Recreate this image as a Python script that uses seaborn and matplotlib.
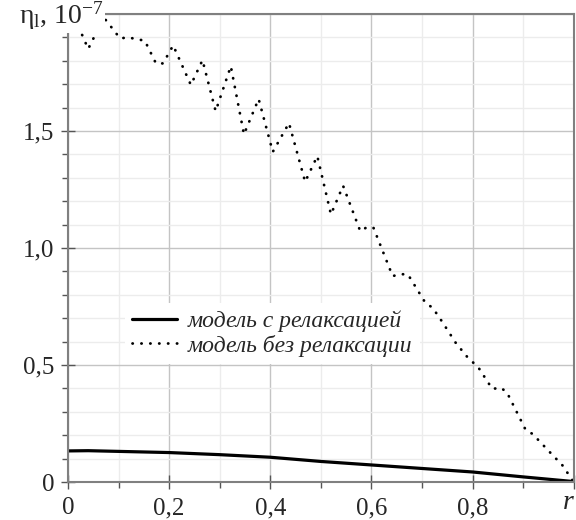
import numpy as np
import seaborn as sns
import matplotlib.pyplot as plt
from matplotlib.ticker import MultipleLocator, FixedLocator, FixedFormatter

# model with relaxation (solid)
r_relax = [0.0, 0.04, 0.1, 0.2, 0.3, 0.4, 0.5, 0.6, 0.7, 0.8, 0.9, 1.0]
eta_relax = [0.133, 0.134, 0.131, 0.126, 0.117, 0.106, 0.088, 0.073, 0.058, 0.043, 0.022, 0.002]

# model without relaxation (dotted)
r_norelax = [0.0, 0.040, 0.071, 0.103, 0.119, 0.152, 0.174, 0.188, 0.208, 0.243, 0.266,
             0.292, 0.322, 0.348, 0.377, 0.405, 0.437, 0.469, 0.493, 0.520, 0.544,
             0.578, 0.591, 0.604, 0.642, 0.656, 0.672, 0.707, 0.721, 0.739, 0.767,
             0.789, 0.812, 0.839, 0.856, 0.868, 0.905, 0.919, 0.964, 0.975, 1.0]
eta_norelax = [2.05, 1.851, 1.985, 1.896, 1.900, 1.886, 1.789, 1.789, 1.866, 1.697, 1.803,
               1.585, 1.777, 1.486, 1.637, 1.411, 1.534, 1.283, 1.393, 1.144, 1.266,
               1.072, 1.089, 1.087, 0.880, 0.888, 0.888, 0.765, 0.745, 0.688, 0.594,
               0.536, 0.488, 0.398, 0.403, 0.383, 0.223, 0.205, 0.102, 0.080, 0.0]

x_ticklabels = ['0', '0,2', '0,4', '0,6', '0,8', '']
y_ticklabels = ['0', '0,5', '1,0', '1,5', '']

sns.set_style('white')
plt.rcParams['font.family'] = ['Liberation Serif', 'DejaVu Serif']
plt.rcParams['mathtext.fontset'] = 'custom'
plt.rcParams['mathtext.rm'] = 'Liberation Serif'
plt.rcParams['mathtext.it'] = 'Liberation Serif:italic'

fig = plt.figure(figsize=(5.76, 5.2), dpi=100)
ax = fig.add_axes([0.118, 0.073, 0.878, 0.900])

sns.lineplot(x=r_relax, y=eta_relax, ax=ax, color='black', linewidth=2.3,
             label='модель с релаксацией', sort=False)
sns.lineplot(x=r_norelax, y=eta_norelax, ax=ax, color='black', linewidth=2.0,
             linestyle=(0, (0.1, 3.1)), dash_capstyle='round',
             label='модель без релаксации', sort=False)

ax.set_xlim(0, 1)
ax.set_ylim(0, 2.0)
ax.xaxis.set_major_locator(FixedLocator([0, 0.2, 0.4, 0.6, 0.8, 1.0]))
ax.xaxis.set_major_formatter(FixedFormatter(x_ticklabels))
ax.xaxis.set_minor_locator(MultipleLocator(0.1))
ax.yaxis.set_major_locator(FixedLocator([0, 0.5, 1.0, 1.5, 2.0]))
ax.yaxis.set_major_formatter(FixedFormatter(y_ticklabels))
ax.yaxis.set_minor_locator(MultipleLocator(0.1))

ax.grid(which='major', color='#c4c4c4', linewidth=1.0)
ax.grid(which='minor', color='#ececec', linewidth=1.0)
ax.set_axisbelow(True)

ax.tick_params(which='major', direction='inout', length=10, width=1, color='#555555',
               labelsize=18, pad=5)
ax.tick_params(which='minor', direction='out', length=4, width=1, color='#555555')
ax.tick_params(axis='x', which='major', pad=6)
ax.tick_params(left=True, bottom=True, which='both')

for s in ax.spines.values():
    s.set_color('#808080')
    s.set_linewidth(1.5)

ax.set_xlabel('')
ax.set_ylabel('')

# axis captions
ax.text(0.99, -0.018, 'r', transform=ax.transAxes, ha='center', va='top',
        fontsize=20, fontstyle='italic')
fig.text(0.033, 0.970, 'η$_{\\mathrm{l}}$, 10$^{-7}$', ha='left', va='center',
         fontsize=20, bbox=dict(facecolor='white', edgecolor='none', pad=0.5))

leg = ax.legend(loc='upper left', bbox_to_anchor=(0.09, 0.407), frameon=True,
                framealpha=1, facecolor='white', edgecolor='none',
                prop={'style': 'italic', 'size': 17}, handlelength=1.9,
                handletextpad=0.45, labelspacing=0.1, borderpad=0.3)

fig.savefig('out.png', dpi=100)
